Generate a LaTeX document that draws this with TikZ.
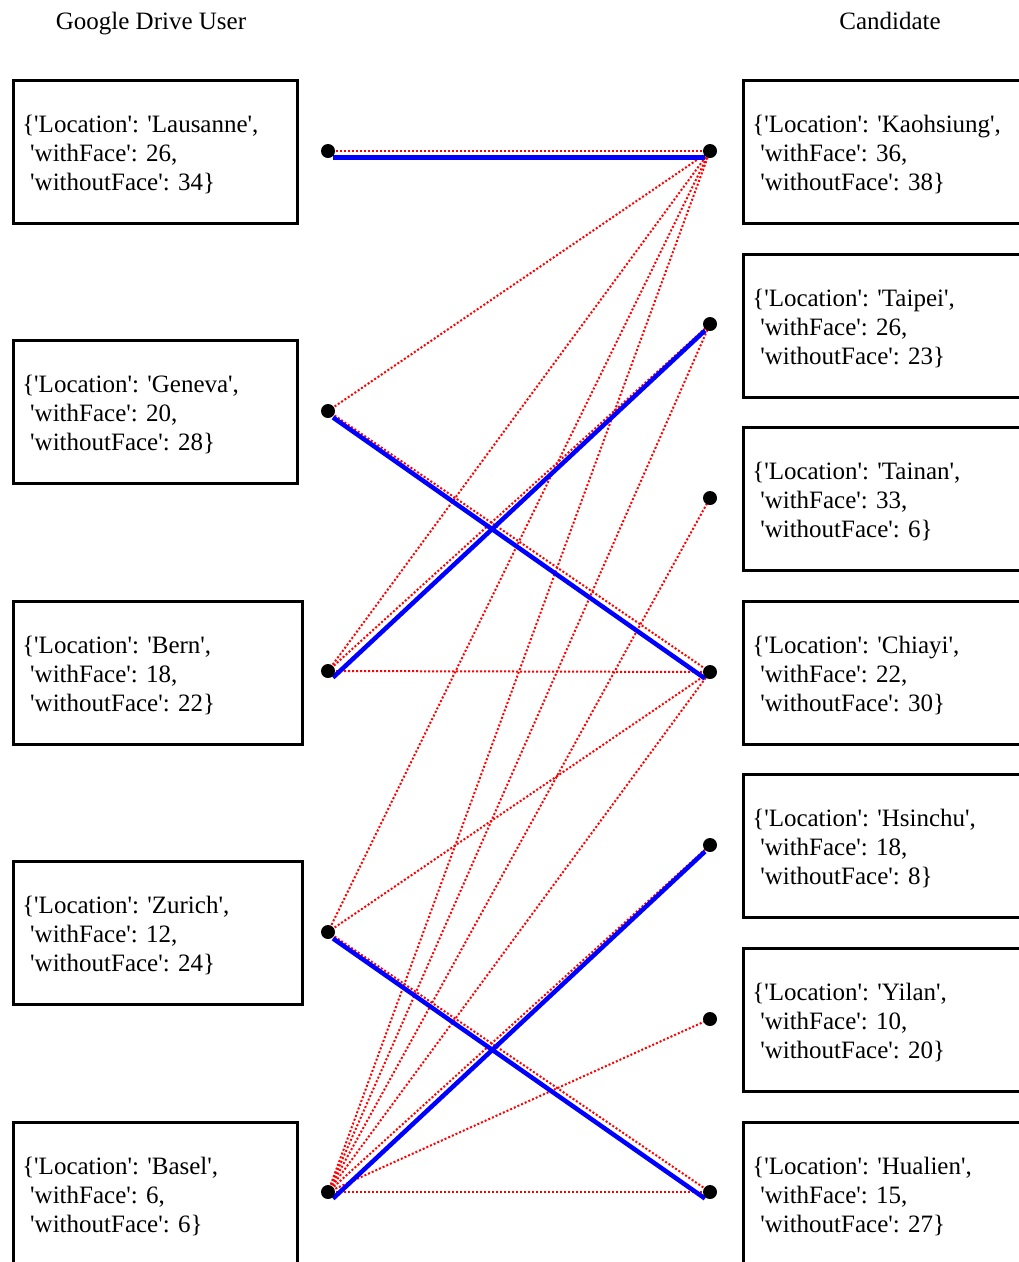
\documentclass[tikz,border=0pt]{standalone}
\usepackage{fontspec}
\setmainfont[Ligatures=TeXOff]{Liberation Serif}
\frenchspacing
\newcommand\locrec[3]{\rule{0pt}{22pt}\{'Location': '#1',\\\hspace*{8pt}'withFace': #2,\\\hspace*{8pt}'withoutFace': #3\}}
\begin{document}
\begin{tikzpicture}[x=1pt,y=-1pt,
  every node/.style={font=\fontsize{25}{29}\selectfont},
  recbox/.style={draw, line width=2.5pt, anchor=north west, minimum height=143pt,
    inner xsep=9pt, inner ysep=0pt, align=left},
  dot/.style={circle, fill=black, minimum size=14pt, inner sep=0pt},
  cand/.style={red, line width=2pt, dash pattern=on 2pt off 2pt},
  chosen/.style={blue, line width=4.5pt},
]
\clip (0,0) rectangle (1019,1262);

% column titles
\node[anchor=base] (tu) at (151,29) {Google Drive User};
\node[anchor=base] (tc) at (890,29) {Candidate};

% user records
\node[recbox, text width=266pt] (b1) at (12,79)   {\locrec{Lausanne}{26}{34}};
\node[recbox, text width=266pt] (b2) at (12,339)  {\locrec{Geneva}{20}{28}};
\node[recbox, text width=271pt] (b3) at (12,600)  {\locrec{Bern}{18}{22}};
\node[recbox, text width=271pt] (b4) at (12,860)  {\locrec{Zurich}{12}{24}};
\node[recbox, text width=266pt] (b5) at (12,1121) {\locrec{Basel}{6}{6}};

% candidate records
\node[recbox, text width=300pt] (k1) at (742,79)   {\locrec{Kaohsiung}{36}{38}};
\node[recbox, text width=300pt] (k2) at (742,253)  {\locrec{Taipei}{26}{23}};
\node[recbox, text width=300pt] (k3) at (742,426)  {\locrec{Tainan}{33}{6}};
\node[recbox, text width=300pt] (k4) at (742,600)  {\locrec{Chiayi}{22}{30}};
\node[recbox, text width=300pt] (k5) at (742,773)  {\locrec{Hsinchu}{18}{8}};
\node[recbox, text width=300pt] (k6) at (742,947)  {\locrec{Yilan}{10}{20}};
\node[recbox, text width=300pt] (k7) at (742,1121) {\locrec{Hualien}{15}{27}};

% graph vertices
\coordinate (u1) at (328,151);
\coordinate (u2) at (328,411);
\coordinate (u3) at (328,671);
\coordinate (u4) at (328,932);
\coordinate (u5) at (328,1192);
\coordinate (c1) at (710,151);
\coordinate (c2) at (710,324);
\coordinate (c3) at (710,498);
\coordinate (c4) at (710,672);
\coordinate (c5) at (710,845);
\coordinate (c6) at (710,1019);
\coordinate (c7) at (710,1192);

% candidate edges
\draw[cand] (u1) -- (c1);
\draw[cand] (u2) -- (c1);
\draw[cand] (u2) -- (c4);
\draw[cand] (u3) -- (c1);
\draw[cand] (u3) -- (c2);
\draw[cand] (u3) -- (c4);
\draw[cand] (u4) -- (c1);
\draw[cand] (u4) -- (c4);
\draw[cand] (u4) -- (c7);
\draw[cand] (u5) -- (c1);
\draw[cand] (u5) -- (c2);
\draw[cand] (u5) -- (c3);
\draw[cand] (u5) -- (c4);
\draw[cand] (u5) -- (c5);
\draw[cand] (u5) -- (c6);
\draw[cand] (u5) -- (c7);

% matched edges
\foreach \a/\b in {u1/c1, u2/c4, u3/c2, u4/c7, u5/c5}
  \draw[chosen] ([shift={(5,6.5)}]\a) -- ([shift={(-5,6.5)}]\b);

% vertex dots
\foreach \p in {u1,u2,u3,u4,u5,c1,c2,c3,c4,c5,c6,c7}
  \node[dot] at (\p) {};
\end{tikzpicture}
\end{document}
